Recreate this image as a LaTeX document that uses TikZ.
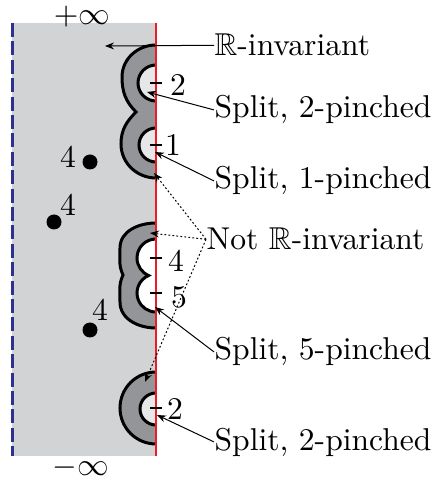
\documentclass[tikz,border=0pt]{standalone}
\usepackage{amssymb}
\usetikzlibrary{arrows.meta}
\definecolor{bggray}{HTML}{D1D3D4}
\definecolor{lobegray}{HTML}{939598}
\definecolor{innergray}{HTML}{E6E7E8}
\definecolor{dblue}{HTML}{2E3192}
\definecolor{lred}{HTML}{ED1C24}
\begin{document}
\begin{tikzpicture}[x=0.5pt,y=0.5pt,
  outline/.style={line width=1.5pt, black},
  pinchmark/.style={line width=1.2pt, black},
  lbl/.style={anchor=base west, inner sep=0pt, scale=1.58},
  numlbl/.style={inner sep=0pt, scale=1.58},
  ptr/.style={line width=0.5pt, -{Stealth[length=4.5pt,width=3.5pt]}},
  dptr/.style={ptr, dash pattern=on 0.9pt off 1.1pt},
  blackdot/.style={circle, fill=black, inner sep=0pt, minimum size=7.5pt}
]
\useasboundingbox (0,0) rectangle (436,482);
% background strip
\fill[bggray] (12,26) rectangle (156,459);
\draw[dblue, line width=1.5pt, dash pattern=on 7pt off 2.2pt] (12.5,459) -- (12.5,26);

% shape 1 (pinched 2 and 1)
\fill[lobegray] (156,437) to[out=180,in=90] (122,405) to[out=-90,in=135] (136,370)
  to[out=-135,in=90] (121,338) to[out=-90,in=180] (156,304) -- cycle;
\draw[outline] (156,437) to[out=180,in=90] (122,405) to[out=-90,in=135] (136,370)
  to[out=-135,in=90] (121,338) to[out=-90,in=180] (156,304);
\fill[innergray] (156,417) arc[start angle=90,end angle=270,radius=18] -- cycle;
\draw[outline] (156,417) arc[start angle=90,end angle=270,radius=18];
\fill[innergray] (156,354) arc[start angle=90,end angle=270,radius=17] -- cycle;
\draw[outline] (156,354) arc[start angle=90,end angle=270,radius=17];

% shape 2 (pinched 4 and 5)
\fill[lobegray] (156,259) to[out=180,in=90] (120,234) to[out=-90,in=115] (123,207)
  to[out=-115,in=90] (120,180) to[out=-90,in=180] (156,154) -- cycle;
\draw[outline] (156,259) to[out=180,in=90] (120,234) to[out=-90,in=115] (123,207)
  to[out=-115,in=90] (120,180) to[out=-90,in=180] (156,154);
\fill[white] (156,243) arc[start angle=90,end angle=247.1,radius=19]
  arc[start angle=112.9,end angle=270,radius=19] -- cycle;
\draw[outline] (156,243) arc[start angle=90,end angle=247.1,radius=19]
  arc[start angle=112.9,end angle=270,radius=19];

% shape 3 (pinched 2)
\fill[lobegray] (156,110) arc[start angle=90,end angle=270,radius=36] -- cycle;
\draw[outline] (156,110) arc[start angle=90,end angle=270,radius=36];
\fill[innergray] (156,89) arc[start angle=90,end angle=270,radius=16] -- cycle;
\draw[outline] (156,89) arc[start angle=90,end angle=270,radius=16];

% real line
\draw[lred, line width=1.2pt] (156,459) -- (156,26);

% pinch marks
\foreach \yy in {399,337,224,189,74} \draw[pinchmark] (150,\yy) -- (162,\yy);
\node[numlbl] (n2a) at (178,397) {2};
\node[numlbl] (n1)  at (173,337) {1};
\node[numlbl] (n4)  at (176,221) {4};
\node[numlbl] (n5)  at (179,185) {5};
\node[numlbl] (n2b) at (175,73)  {2};

% dots
\node[blackdot] (d1) at (90,320) {};
\node[blackdot] (d2) at (54,260) {};
\node[blackdot] (d3) at (90,152) {};
\node[numlbl] (d1l) at (68,325) {4};
\node[numlbl] (d2l) at (68,277) {4};
\node[numlbl] (d3l) at (100,172) {4};

% infinities
\node[numlbl] (pinf) at (82,465) {$+\infty$};
\node[numlbl] (minf) at (81,14) {$-\infty$};

% labels
\node[lbl] (rinv) at (214,426) {$\mathbb{R}$-invariant};
\node[lbl] (s2a) at (214,364) {Split, 2-pinched};
\node[lbl] (s1) at (214,293) {Split, 1-pinched};
\node[lbl] (ninv) at (206,232) {Not $\mathbb{R}$-invariant};
\node[lbl] (s5) at (214,122) {Split, 5-pinched};
\node[lbl] (s2b) at (214,32) {Split, 2-pinched};

% targets
\coordinate (trinv) at (105,436);
\coordinate (ts2a) at (147,390);
\coordinate (ts1) at (155,330);
\coordinate (ts5) at (155,175);
\coordinate (ts2b) at (157,67);
\coordinate (tn1) at (154,309);
\coordinate (tn2) at (150,249);
\coordinate (tn3) at (145,100);

\draw[ptr] (rinv.west) -- (trinv);
\draw[ptr] (s2a.west) -- (ts2a);
\draw[ptr] (s1.west) -- (ts1);
\draw[ptr] (s5.west) -- (ts5);
\draw[ptr] (s2b.west) -- (ts2b);
\draw[dptr] (ninv.west) -- (tn1);
\draw[dptr] (ninv.west) -- (tn2);
\draw[dptr] (ninv.west) -- (tn3);
\end{tikzpicture}
\end{document}
